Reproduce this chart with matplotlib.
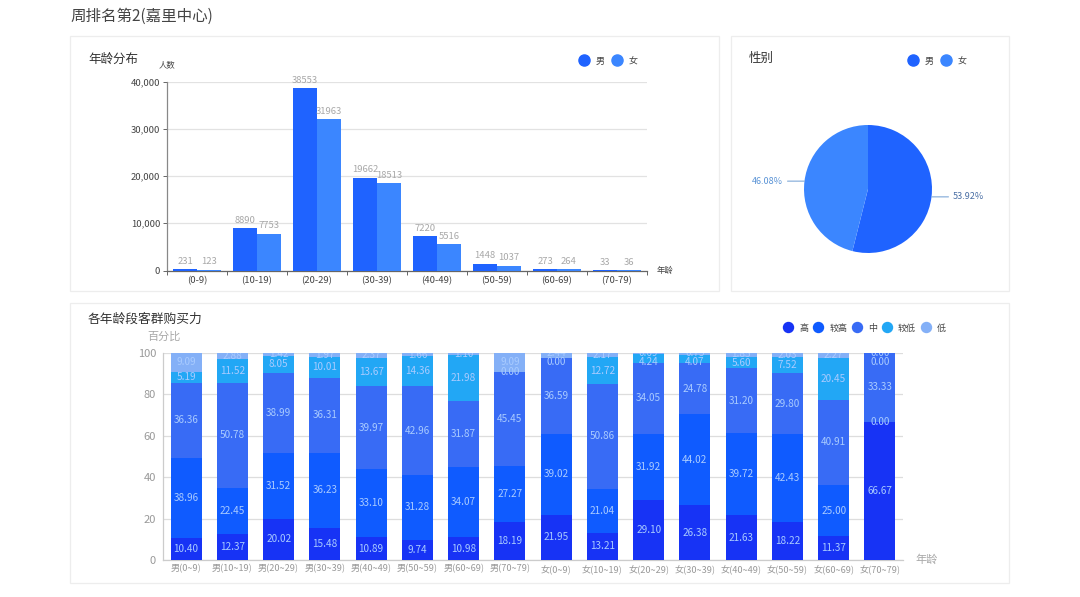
import matplotlib
matplotlib.use("Agg")
import matplotlib.pyplot as plt
import numpy as np
from matplotlib.lines import Line2D
from matplotlib.patches import Rectangle
from matplotlib.ticker import FuncFormatter

plt.rcParams['font.family'] = ['Noto Sans CJK SC', 'DejaVu Sans']
W, H = 1080, 597

# ---------- data ----------
age_groups = ['(0-9)', '(10-19)', '(20-29)', '(30-39)', '(40-49)', '(50-59)', '(60-69)', '(70-79)']
male_counts = [231, 8890, 38553, 19662, 7220, 1448, 273, 33]
female_counts = [123, 7753, 31963, 18513, 5516, 1037, 264, 36]
gender_names = ['男', '女']
gender_share = [53.92, 46.08]
segment_labels = ['男(0~9)', '男(10~19)', '男(20~29)', '男(30~39)', '男(40~49)', '男(50~59)', '男(60~69)', '男(70~79)',
                  '女(0~9)', '女(10~19)', '女(20~29)', '女(30~39)', '女(40~49)', '女(50~59)', '女(60~69)', '女(70~79)']
power_names = ['高', '较高', '中', '较低', '低']
power_high = [10.40, 12.37, 20.02, 15.48, 10.89, 9.74, 10.98, 18.19, 21.95, 13.21, 29.10, 26.38, 21.63, 18.22, 11.37, 66.67]
power_midhigh = [38.96, 22.45, 31.52, 36.23, 33.10, 31.28, 34.07, 27.27, 39.02, 21.04, 31.92, 44.02, 39.72, 42.43, 25.00, 0.00]
power_mid = [36.36, 50.78, 38.99, 36.31, 39.97, 42.96, 31.87, 45.45, 36.59, 50.86, 34.05, 24.78, 31.20, 29.80, 40.91, 33.33]
power_midlow = [5.19, 11.52, 8.05, 10.01, 13.67, 14.36, 21.98, 0.00, 0.00, 12.72, 4.24, 4.07, 5.60, 7.52, 20.45, 0.00]
power_low = [9.09, 2.88, 1.42, 1.97, 2.37, 1.66, 1.10, 9.09, 2.44, 2.17, 0.69, 0.75, 1.85, 2.03, 2.27, 0.00]

# ---------- style ----------
C_MALE, C_FEMALE = '#1F63FF', '#3B86FF'
POWER_COLORS = ['#1733F5', '#0F5BFF', '#386BF5', '#22A7F5', '#84B0F7']
LABEL_ON_BAR = '#A9CBFF'
MIN_LABEL_GAP = 4.2  # percentage units between stacked labels


def axes_px(x0, y_top, x1, y_bottom, **kw):
    return fig.add_axes([x0 / W, 1 - y_bottom / H, (x1 - x0) / W, (y_bottom - y_top) / H], **kw)


def fx(x):
    return x / W


def fy(y):
    return 1 - y / H


def circle_legend(names, colors, cx, cy, spacing, size=8.0):
    handles = [Line2D([], [], ls='', marker='o', ms=size, mfc=c, mec=c, label=n) for n, c in zip(names, colors)]
    fig.legend(handles=handles, loc='center', bbox_to_anchor=(fx(cx), fy(cy)), ncol=len(names), frameon=False,
               fontsize=6.5, labelcolor='#444444', handletextpad=0.55, columnspacing=spacing, handlelength=1.4,
               borderpad=0, borderaxespad=0)


fig = plt.figure(figsize=(W / 100, H / 100), dpi=100, facecolor='white')

# cards
for x0, y0, x1, y1 in [(70, 36, 719, 291), (731, 36, 1009, 291), (70, 303, 1009, 583)]:
    fig.add_artist(Rectangle((fx(x0), fy(y1)), (x1 - x0) / W, (y1 - y0) / H, transform=fig.transFigure,
                             fc='white', ec='#EDEDED', lw=0.9, zorder=-1))

fig.text(fx(70), fy(16.5), '周排名第2(嘉里中心)', fontsize=11.2, color='#444444', ha='left', va='center')
fig.text(fx(88), fy(59), '年龄分布', fontsize=9, color='#333333', ha='left', va='center')
fig.text(fx(749), fy(58), '性别', fontsize=9, color='#333333', ha='left', va='center')
fig.text(fx(88), fy(319), '各年龄段客群购买力', fontsize=9.2, color='#333333', ha='left', va='center')

# ---------- age distribution ----------
ax = axes_px(167, 81.5, 647, 270.5)
x = np.arange(len(age_groups))
bw = 0.4
b1 = ax.bar(x - bw / 2, male_counts, bw, color=C_MALE, zorder=3)
b2 = ax.bar(x + bw / 2, female_counts, bw, color=C_FEMALE, zorder=3)
for bars in (b1, b2):
    ax.bar_label(bars, padding=2.5, fontsize=6.8, color='#A8A8A8', zorder=4)
ax.set_xlim(-0.5, len(age_groups) - 0.5)
ax.set_ylim(0, 40000)
ax.set_yticks([0, 10000, 20000, 30000, 40000])
ax.yaxis.set_major_formatter(FuncFormatter(lambda v, _: f'{int(v):,}'))
ax.set_xticks(x)
ax.set_xticklabels(age_groups)
ax.set_xticks(np.arange(len(age_groups) + 1) - 0.5, minor=True)
ax.tick_params(axis='x', which='major', length=0, labelsize=6.8, labelcolor='#444444', pad=4)
ax.tick_params(axis='x', which='minor', length=3, width=0.7, color='#666666')
ax.tick_params(axis='y', length=3, width=0.7, color='#666666', labelsize=6.8, labelcolor='#444444', pad=2)
ax.grid(axis='y', color='#E2E2E2', lw=0.9, zorder=0)
ax.set_axisbelow(True)
for s in ('top', 'right'):
    ax.spines[s].set_visible(False)
ax.spines['left'].set_color('#888888')
ax.spines['bottom'].set_color('#666666')
for s in ('left', 'bottom'):
    ax.spines[s].set_linewidth(0.9)
ax.patch.set_alpha(0)
fig.text(fx(167), fy(65), '人数', fontsize=6, color='#444444', ha='center', va='center')
fig.text(fx(657), fy(270.5), '年龄', fontsize=6, color='#444444', ha='left', va='center')
circle_legend(gender_names, [C_MALE, C_FEMALE], 607.5, 61, 0.7)

# ---------- gender pie ----------
R = 64
axp = axes_px(868 - R, 189 - R, 868 + R, 189 + R)
wedges, _ = axp.pie(gender_share, colors=[C_MALE, C_FEMALE], startangle=90, counterclock=False, radius=1.0,
                    wedgeprops=dict(lw=0))
axp.set_xlim(-1, 1)
axp.set_ylim(-1, 1)
for w, share, col in zip(wedges, gender_share, ['#4A6FA5', '#5B94D6']):
    ang = np.deg2rad((w.theta1 + w.theta2) / 2)
    sx, sy = np.cos(ang), np.sin(ang)
    side = 1 if sx > 0 else -1
    axp.annotate(f'{share:.2f}%', xy=(sx, sy), xytext=(sx + side * 0.33, sy + 0.0), fontsize=6.5, color=col,
                 ha='left' if side > 0 else 'right', va='center', annotation_clip=False,
                 arrowprops=dict(arrowstyle='-', color='#7FA8D8', lw=0.8, shrinkA=1, shrinkB=0))
circle_legend(gender_names, [C_MALE, C_FEMALE], 936.5, 61, 0.7)

# ---------- purchasing power ----------
axb = axes_px(163, 353, 903, 560)
xb = np.arange(len(segment_labels))
series = [np.asarray(s) for s in (power_high, power_midhigh, power_mid, power_midlow, power_low)]
bottom = np.zeros(len(xb))
centers = []
for vals, c, name in zip(series, POWER_COLORS, power_names):
    axb.bar(xb, vals, 0.67, bottom=bottom, color=c, zorder=3, label=name)
    centers.append(bottom + vals / 2)
    bottom += vals
centers = np.array(centers)
for col in xb:
    ys = centers[:, col].copy()
    # thin top bands: spread their labels apart, letting the axes top clip them
    for k in range(len(ys) - 2, -1, -1):
        if ys[k + 1] - ys[k] < MIN_LABEL_GAP:
            if k == len(ys) - 2 and ys[k + 1] < 100:
                ys[k + 1] = min(100, ys[k] + MIN_LABEL_GAP)
            ys[k] = min(ys[k], ys[k + 1] - MIN_LABEL_GAP)
    for k, vals in enumerate(series):
        axb.text(col, ys[k], f'{vals[col]:.2f}', fontsize=7.2, color=LABEL_ON_BAR, ha='center', va='center',
                 zorder=4, clip_on=True)
axb.set_xlim(-0.5, len(xb) - 0.5)
axb.set_ylim(0, 100)
axb.set_yticks([0, 20, 40, 60, 80, 100])
axb.set_xticks(xb)
axb.set_xticklabels(segment_labels)
axb.tick_params(axis='x', length=0, labelsize=6.6, labelcolor='#999999', pad=3)
axb.tick_params(axis='y', length=0, labelsize=8, labelcolor='#999999', pad=5)
axb.grid(axis='y', color='#DDDDDD', lw=0.9, zorder=0)
axb.set_axisbelow(True)
for s in ('top', 'right'):
    axb.spines[s].set_visible(False)
for s in ('left', 'bottom'):
    axb.spines[s].set_color('#CCCCCC')
    axb.spines[s].set_linewidth(0.9)
axb.patch.set_alpha(0)
fig.text(fx(164.5), fy(337), '百分比', fontsize=8, color='#A8A8A8', ha='center', va='center')
fig.text(fx(915), fy(560), '年龄', fontsize=8, color='#A8A8A8', ha='left', va='center')
circle_legend(power_names, POWER_COLORS, 864, 328, 0.35, size=7.2)

fig.savefig('out.png', dpi=100)
